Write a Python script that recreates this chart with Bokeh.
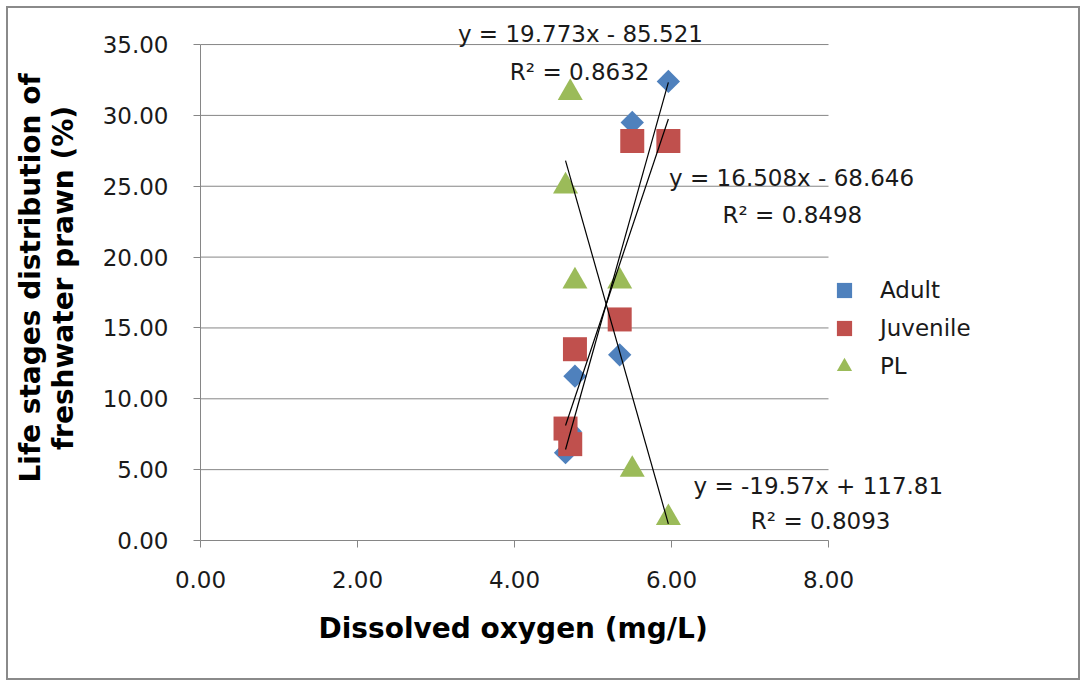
from bokeh.plotting import figure
from bokeh.models import Legend, LegendItem, Label, Title, FixedTicker, PrintfTickFormatter, Range1d
from bokeh.embed import file_html
from bokeh.resources import INLINE
import math

# ---- data ----
dissolved_oxygen = [4.65, 4.71, 4.77, 5.34, 5.50, 5.96]
adult = [6.2, 7.7, 11.6, 13.1, 29.5, 32.4]
juvenile = [7.9, 6.8, 13.5, 15.6, 28.2, 28.2]
pl = [25.0, 31.6, 18.3, 18.3, 5.0, 1.6]

series_names = ["Adult", "Juvenile", "PL"]
slopes = [19.773, 16.508, -19.57]
intercepts = [-85.521, -68.646, 117.81]
eq_texts = ["y = 19.773x - 85.521", "y = 16.508x - 68.646", "y = -19.57x + 117.81"]
r2_texts = ["R\u00b2 = 0.8632", "R\u00b2 = 0.8498", "R\u00b2 = 0.8093"]

x_ticks = [0, 2, 4, 6, 8]
y_ticks = [0, 5, 10, 15, 20, 25, 30, 35]

x_title = "Dissolved  oxygen (mg/L)"
y_title = "Life stages distribution of\nfreshwater prawn (%)"

# label anchor positions (data units)
eq_pos = [(4.84, 35.71), (7.53, 25.55), (7.87, 3.88)]
r2_pos = [(4.83, 33.03), (7.54, 23.00), (7.90, 1.41)]

colors = ["#4F81BD", "#C0504D", "#9BBB59"]
FONT = "DejaVu Sans"
GRAY = "#868686"

X_END = 10.726   # frame extends past the axis so that labels/legend are not clipped
Y_END = 37.05

p = figure(width=1074, height=674, output_backend="svg", toolbar_location=None,
           x_range=Range1d(0, X_END), y_range=Range1d(0, Y_END),
           min_border_left=192, min_border_right=40, min_border_top=7, min_border_bottom=142)
p.styles = {"border": "2px solid #8a8a8a", "margin": "6px 0 0 6px"}
p.outline_line_color = None
p.background_fill_color = "white"
p.border_fill_color = "white"

p.xgrid.grid_line_color = None
p.ygrid.grid_line_color = None

p.xaxis.ticker = FixedTicker(ticks=x_ticks)
p.yaxis.ticker = FixedTicker(ticks=y_ticks)
p.xaxis.bounds = (x_ticks[0], x_ticks[-1])
p.yaxis.bounds = (y_ticks[0], y_ticks[-1])
for ax in (p.xaxis, p.yaxis):
    ax.formatter = PrintfTickFormatter(format="%.2f")
    ax.axis_line_color = GRAY
    ax.major_tick_line_color = GRAY
    ax.major_tick_out = 7
    ax.major_tick_in = 0
    ax.minor_tick_line_color = None
    ax.major_label_text_font = FONT
    ax.major_label_text_font_size = "23px"
    ax.major_label_text_color = "#1a1a1a"
    ax.axis_label_text_font = FONT
    ax.axis_label_text_font_style = "bold"
    ax.axis_label_text_font_size = "28px"
    ax.axis_label_text_color = "black"

p.xaxis.major_label_standoff = 23
p.yaxis.major_label_standoff = 25
p.yaxis.axis_label = y_title
p.yaxis.axis_label_standoff = 20
p.yaxis.axis_label_text_line_height = 1.0

# x-axis title, centred under the 0-8 axis (not under the whole frame)
p.add_layout(Title(text=x_title, align="left", offset=118, standoff=38,
                   text_font=FONT, text_font_style="bold", text_font_size="28px",
                   text_color="black"), "below")

# horizontal gridlines, limited to the axis extent
p.segment(x0=[x_ticks[0]] * len(y_ticks[1:]), x1=[x_ticks[-1]] * len(y_ticks[1:]),
          y0=y_ticks[1:], y1=y_ticks[1:], line_color=GRAY, line_width=1)

r_adult = p.scatter(dissolved_oxygen, adult, marker="square", angle=math.pi / 4, size=16.5,
                    fill_color=colors[0], line_color=None)
r_juv = p.scatter(dissolved_oxygen, juvenile, marker="square", size=24,
                  fill_color=colors[1], line_color=None)
r_pl = p.scatter(dissolved_oxygen, pl, marker="triangle", size=25,
                 fill_color=colors[2], line_color=None)

# linear trendlines from the given equations over the data range
x0, x1 = min(dissolved_oxygen), max(dissolved_oxygen)
for m, b in zip(slopes, intercepts):
    p.line([x0, x1], [m * x0 + b, m * x1 + b], line_color="black", line_width=1.2)

for t, (lx, ly) in zip(eq_texts + r2_texts, eq_pos + r2_pos):
    p.add_layout(Label(x=lx, y=ly, text=t, text_align="center", text_baseline="middle",
                       text_font=FONT, text_font_size="23px", text_color="#1a1a1a"))

legend = Legend(items=[LegendItem(label=series_names[0], renderers=[r_adult]),
                       LegendItem(label=series_names[1], renderers=[r_juv]),
                       LegendItem(label=series_names[2], renderers=[r_pl])],
                location=(624, 155))
legend.glyph_width = 40
legend.glyph_height = 38
legend.spacing = 0
legend.label_standoff = 16
legend.padding = 0
legend.margin = 0
legend.border_line_color = None
legend.background_fill_alpha = 0
legend.label_text_font = FONT
legend.label_text_font_size = "23px"
legend.label_text_color = "#1a1a1a"
p.add_layout(legend, "center")

open("out.html", "w").write(file_html(p, INLINE))
